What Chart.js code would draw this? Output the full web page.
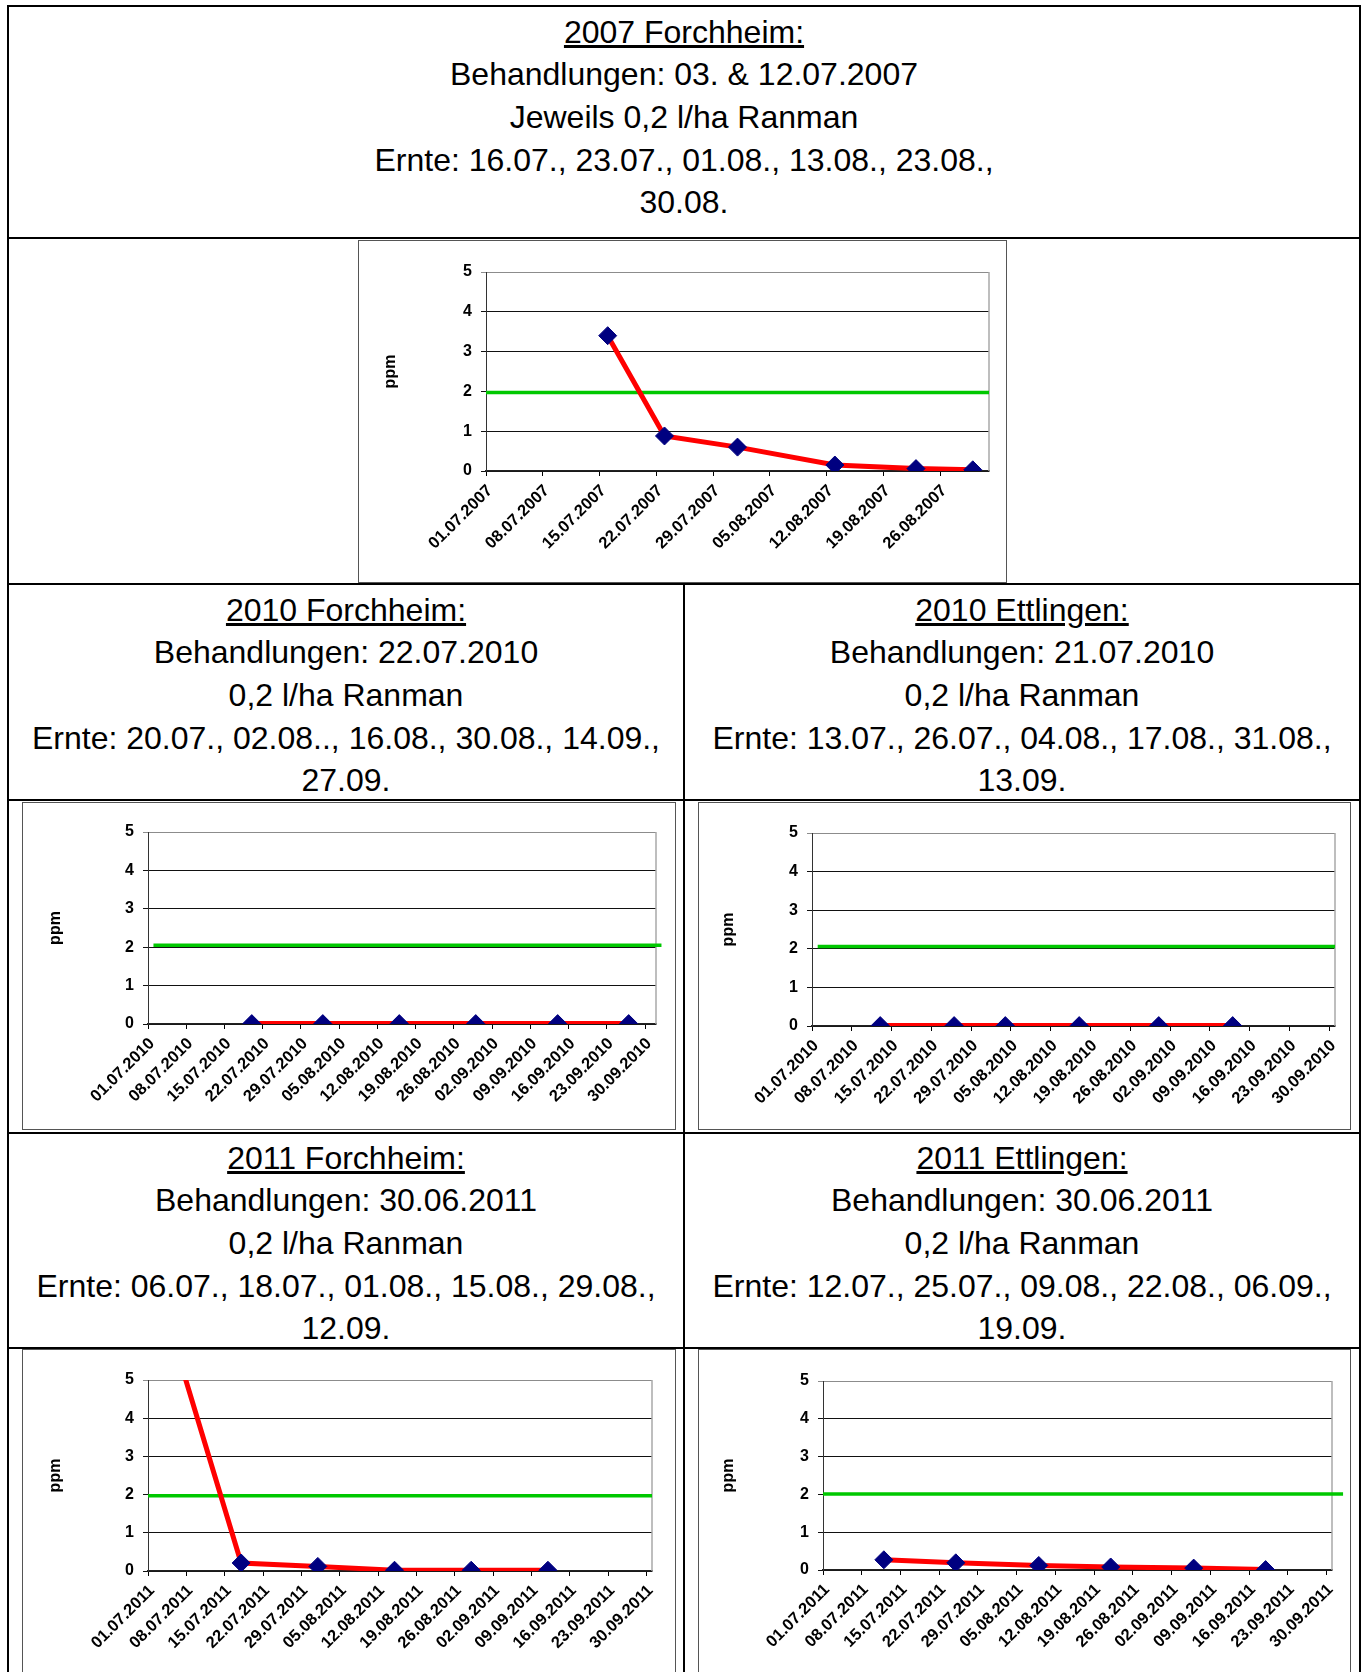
<!DOCTYPE html>
<html>
<head>
<meta charset="utf-8">
<title>Ranman Rückstände</title>
<script src="https://cdn.jsdelivr.net/npm/chart.js@4.4.1/dist/chart.umd.min.js"></script>
<style>
  html, body { margin: 0; padding: 0; background: #fff; }
  body { width: 1364px; height: 1672px; position: relative; overflow: hidden;
         font-family: 'Liberation Sans', Arial, sans-serif; color: #000; }
  .frame { position: absolute; left: 7px; top: 5px; width: 1354px; height: 1720px;
           border: 2px solid #000; box-sizing: border-box; }
  .hline { position: absolute; left: 7px; width: 1354px; height: 2px; background: #000; }
  .vline { position: absolute; left: 683px; top: 583px; width: 2px; height: 1100px; background: #000; }
  .txt { position: absolute; text-align: center; font-size: 32px; line-height: 42.67px; white-space: nowrap; }
  .txt .head { text-decoration: underline; }
  .box { position: absolute; border: 1px solid #555; box-sizing: border-box; background: #fff; }
  .box .inner { position: relative; width: 100%; height: 100%; }
</style>
</head>
<body>
<div class="frame"></div>
<div class="hline" style="top:237px"></div>
<div class="hline" style="top:583px"></div>
<div class="hline" style="top:799px"></div>
<div class="hline" style="top:1132px"></div>
<div class="hline" style="top:1347px"></div>
<div class="vline"></div>

<div class="txt" style="left:9px; width:1350px; top:10.7px">
  <div><span class="head">2007 Forchheim:</span></div>
  <div>Behandlungen: 03. &amp; 12.07.2007</div>
  <div>Jeweils 0,2 l/ha Ranman</div>
  <div>Ernte: 16.07., 23.07., 01.08., 13.08., 23.08.,</div>
  <div>30.08.</div>
</div>
<div class="txt" style="left:9px; width:674px; top:588.7px">
  <div><span class="head">2010 Forchheim:</span></div>
  <div>Behandlungen: 22.07.2010</div>
  <div>0,2 l/ha Ranman</div>
  <div>Ernte: 20.07., 02.08.., 16.08., 30.08., 14.09.,</div>
  <div>27.09.</div>
</div>
<div class="txt" style="left:685px; width:674px; top:588.7px">
  <div><span class="head">2010 Ettlingen:</span></div>
  <div>Behandlungen: 21.07.2010</div>
  <div>0,2 l/ha Ranman</div>
  <div>Ernte: 13.07., 26.07., 04.08., 17.08., 31.08.,</div>
  <div>13.09.</div>
</div>
<div class="txt" style="left:9px; width:674px; top:1136.7px">
  <div><span class="head">2011 Forchheim:</span></div>
  <div>Behandlungen: 30.06.2011</div>
  <div>0,2 l/ha Ranman</div>
  <div>Ernte: 06.07., 18.07., 01.08., 15.08., 29.08.,</div>
  <div>12.09.</div>
</div>
<div class="txt" style="left:685px; width:674px; top:1136.7px">
  <div><span class="head">2011 Ettlingen:</span></div>
  <div>Behandlungen: 30.06.2011</div>
  <div>0,2 l/ha Ranman</div>
  <div>Ernte: 12.07., 25.07., 09.08., 22.08., 06.09.,</div>
  <div>19.09.</div>
</div>

<div class="box" style="left:358px; top:240px; width:649px; height:343px"><div class="inner"><canvas id="chart2007"></canvas></div></div>
<div class="box" style="left:22px; top:802px; width:654px; height:328px"><div class="inner"><canvas id="chart2010F"></canvas></div></div>
<div class="box" style="left:698px; top:802px; width:653px; height:328px"><div class="inner"><canvas id="chart2010E"></canvas></div></div>
<div class="box" style="left:22px; top:1349px; width:654px; height:328px"><div class="inner"><canvas id="chart2011F"></canvas></div></div>
<div class="box" style="left:698px; top:1349px; width:653px; height:328px"><div class="inner"><canvas id="chart2011E"></canvas></div></div>

<script>
// tick labels of the date axes
const ticks2007 = ['01.07.2007', '08.07.2007', '15.07.2007', '22.07.2007', '29.07.2007',
                   '05.08.2007', '12.08.2007', '19.08.2007', '26.08.2007'];
const ticks2010 = ['01.07.2010', '08.07.2010', '15.07.2010', '22.07.2010', '29.07.2010',
                   '05.08.2010', '12.08.2010', '19.08.2010', '26.08.2010', '02.09.2010',
                   '09.09.2010', '16.09.2010', '23.09.2010', '30.09.2010'];
const ticks2011 = ['01.07.2011', '08.07.2011', '15.07.2011', '22.07.2011', '29.07.2011',
                   '05.08.2011', '12.08.2011', '19.08.2011', '26.08.2011', '02.09.2011',
                   '09.09.2011', '16.09.2011', '23.09.2011', '30.09.2011'];
const ppmTicks = [0, 1, 2, 3, 4, 5];

// axis range (first / last day)
const axis2007 = ['01.07.2007', '01.09.2007'];
const axis2010F = ['01.07.2010', '02.10.2010'];
const axis2010E = ['01.07.2010', '01.10.2010'];
const axis2011 = ['01.07.2011', '01.10.2011'];

// harvest dates and residues (ppm)
const ernte2007 = ['16.07.2007', '23.07.2007', '01.08.2007', '13.08.2007', '23.08.2007', '30.08.2007'];
const ppm2007 = [3.4, 0.88, 0.6, 0.15, 0.06, 0.03];
const ernte2010F = ['20.07.2010', '02.08.2010', '16.08.2010', '30.08.2010', '14.09.2010', '27.09.2010'];
const ppm2010F = [0.01, 0.01, 0.01, 0.01, 0.01, 0.01];
const ernte2010E = ['13.07.2010', '26.07.2010', '04.08.2010', '17.08.2010', '31.08.2010', '13.09.2010'];
const ppm2010E = [0.01, 0.01, 0.01, 0.01, 0.01, 0.01];
const ernte2011F = ['06.07.2011', '18.07.2011', '01.08.2011', '15.08.2011', '29.08.2011', '12.09.2011'];
const ppm2011F = [5.9, 0.21, 0.12, 0.02, 0.02, 0.02];
const ernte2011E = ['12.07.2011', '25.07.2011', '09.08.2011', '22.08.2011', '06.09.2011', '19.09.2011'];
const ppm2011E = [0.27, 0.19, 0.12, 0.08, 0.05, 0.01];

// green limit line (2 ppm) as drawn in each chart
const limitDates2007 = ['01.07.2007', '01.09.2007'];
const limit2007 = [1.97, 1.97];
const limitDates2010F = ['02.07.2010', '03.10.2010'];
const limit2010F = [2.05, 2.05];
const limitDates2010E = ['02.07.2010', '01.10.2010'];
const limit2010E = [2.06, 2.06];
const limitDates2011F = ['01.07.2011', '01.10.2011'];
const limit2011F = [1.97, 1.97];
const limitDates2011E = ['01.07.2011', '03.10.2011'];
const limit2011E = [2.01, 2.01];

const FONT = "'Liberation Sans', Arial, sans-serif";
Chart.defaults.font.family = FONT;
Chart.defaults.color = '#000';

function dayNum(s) {
  const p = s.split('.').map(Number);
  return Date.UTC(p[2], p[1] - 1, p[0]) / 86400000;
}

function points(dates, values) {
  return dates.map((d, i) => ({ x: dayNum(d), y: values[i] }));
}

const plotFrame = {
  id: 'plotFrame',
  beforeDatasetsDraw(chart) {
    const ctx = chart.ctx, a = chart.chartArea;
    ctx.save();
    ctx.strokeStyle = '#a8a8a8';
    ctx.lineWidth = 1.5;
    ctx.beginPath();
    ctx.moveTo(a.right, a.top);
    ctx.lineTo(a.right, a.bottom);
    ctx.stroke();
    ctx.restore();
  }
};

function drawChart(id, c, lay) {
  return new Chart(document.getElementById(id), {
    type: 'line',
    data: {
      datasets: [
        {
          label: 'Grenzwert',
          data: points(c.limitDates, c.limit),
          borderColor: '#00c800',
          borderWidth: 3.5,
          pointRadius: 0,
          clip: false,
          order: 2
        },
        {
          label: 'ppm',
          data: points(c.dates, c.values),
          borderColor: '#ff0000',
          borderWidth: 5,
          tension: 0,
          pointStyle: 'rectRot',
          pointRadius: 9,
          pointBackgroundColor: '#000080',
          pointBorderColor: '#000080',
          pointBorderWidth: 1,
          order: 1
        }
      ]
    },
    options: {
      animation: false,
      responsive: true,
      maintainAspectRatio: false,
      events: [],
      layout: { padding: { top: lay.top, right: lay.right, left: 0, bottom: 0 } },
      plugins: { legend: { display: false }, tooltip: { enabled: false } },
      scales: {
        x: {
          type: 'linear',
          min: dayNum(c.axis[0]),
          max: dayNum(c.axis[1]),
          afterBuildTicks: s => { s.ticks = c.ticks.map(t => ({ value: dayNum(t) })); },
          afterFit: s => { s.height = lay.xh; s.paddingLeft = 0; s.paddingRight = 0; },
          ticks: {
            autoSkip: false,
            minRotation: 45,
            maxRotation: 45,
            padding: 5,
            labelOffset: 4,
            callback: (v, i) => c.ticks[i],
            font: { size: 16.5, weight: 'bold' }
          },
          grid: { drawOnChartArea: false, tickLength: 5, color: '#000' },
          border: { color: '#222', width: 1.5 }
        },
        y: {
          type: 'linear',
          min: ppmTicks[0],
          max: ppmTicks[ppmTicks.length - 1],
          afterFit: s => { s.width = lay.yw; s.paddingTop = 0; s.paddingBottom = 0; },
          ticks: { stepSize: 1, padding: 9, font: { size: 16, weight: 'bold' } },
          grid: {
            tickLength: 5,
            color: ctx => (ctx.tick && ctx.tick.value === 5) ? '#8c8c8c' : '#111'
          },
          border: { color: '#333', width: 1 },
          title: {
            display: true,
            text: 'ppm',
            font: { size: 16, weight: 'bold' },
            padding: { top: lay.title, bottom: 0 }
          }
        }
      }
    },
    plugins: [plotFrame]
  });
}

drawChart('chart2007',
  { ticks: ticks2007, axis: axis2007, dates: ernte2007, values: ppm2007, limitDates: limitDates2007, limit: limit2007 },
  { yw: 127, top: 31, right: 17, xh: 111, title: 21.5 });
drawChart('chart2010F',
  { ticks: ticks2010, axis: axis2010F, dates: ernte2010F, values: ppm2010F, limitDates: limitDates2010F, limit: limit2010F },
  { yw: 125, top: 29, right: 19, xh: 105, title: 23 });
drawChart('chart2010E',
  { ticks: ticks2010, axis: axis2010E, dates: ernte2010E, values: ppm2010E, limitDates: limitDates2010E, limit: limit2010E },
  { yw: 113, top: 30, right: 15, xh: 103, title: 20 });
drawChart('chart2011F',
  { ticks: ticks2011, axis: axis2011, dates: ernte2011F, values: ppm2011F, limitDates: limitDates2011F, limit: limit2011F },
  { yw: 125, top: 30, right: 23, xh: 105, title: 23 });
drawChart('chart2011E',
  { ticks: ticks2011, axis: axis2011, dates: ernte2011E, values: ppm2011E, limitDates: limitDates2011E, limit: limit2011E },
  { yw: 124, top: 31, right: 18, xh: 106, title: 19.5 });
</script>
</body>
</html>
